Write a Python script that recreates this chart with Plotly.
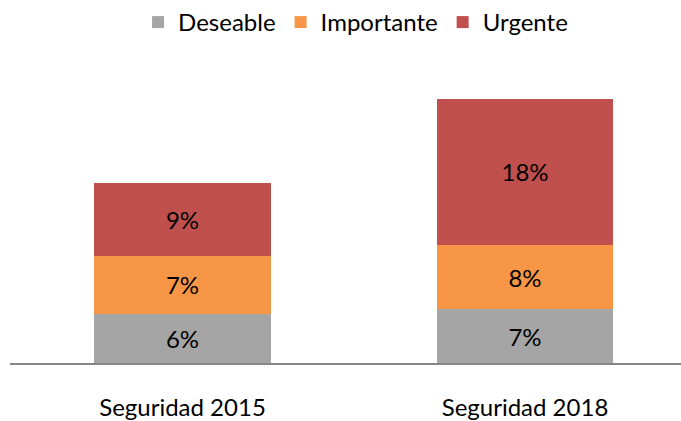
import plotly.graph_objects as go

categories = ["Seguridad 2015", "Seguridad 2018"]
deseable = [6.1, 6.6]
importante = [7.1, 8.0]
urgente = [9.0, 18.0]
series_names = ["Deseable", "Importante", "Urgente"]
colors = ["#A5A5A5", "#F79646", "#C0504D"]

fig = go.Figure()
for name, vals, col in zip(series_names, [deseable, importante, urgente], colors):
    fig.add_trace(go.Bar(
        x=categories, y=vals, name=name, marker=dict(color=col, line=dict(width=0)),
        text=[f"{round(v):.0f}%" for v in vals], textposition="inside",
        insidetextanchor="middle", textangle=0,
        textfont=dict(color="black", size=24, family="Lato"),
        width=0.514,
    ))

fig.update_layout(
    barmode="stack",
    width=681, height=421,
    margin=dict(l=10, r=0, t=60, b=54),
    paper_bgcolor="white", plot_bgcolor="white",
    font=dict(family="Lato", size=24, color="black"),
    uniformtext=dict(mode=False),
    legend=dict(orientation="h", x=0.515, xanchor="center", y=1.0, yref="container",
                yanchor="top", font=dict(size=24), traceorder="normal",
                itemwidth=30, tracegroupgap=0),
    xaxis=dict(range=[-0.5036, 1.4555], showline=True, linecolor="#868686", linewidth=2,
               showgrid=False, ticks="", tickfont=dict(size=24), ticklabelstandoff=22),
    yaxis=dict(range=[0, 37.35], visible=False, showgrid=False),
)
fig.write_html("out.html", config={"displayModeBar": False},
               post_script="document.body.style.margin='0';document.body.style.padding='0';")
